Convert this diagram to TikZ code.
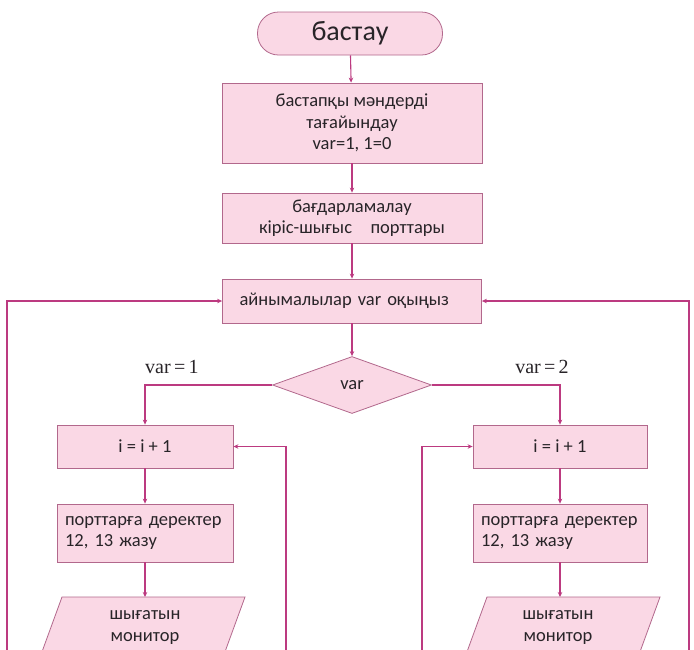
\documentclass[tikz,border=0pt]{standalone}
\usepackage{fontspec}
\usetikzlibrary{shapes.geometric,arrows.meta}
\newfontfamily\boxfont{Carlito}
\newfontfamily\labelfont{Liberation Serif}
\definecolor{boxfill}{RGB}{250,216,229}
\definecolor{boxline}{RGB}{178,104,140}
\definecolor{flowline}{RGB}{188,58,128}
\definecolor{ink}{RGB}{40,36,40}
\begin{document}
\begin{tikzpicture}[x=1pt,y=-1pt,
  block/.style={draw=boxline, fill=boxfill, line width=0.8pt, text=ink,
    font=\boxfont\fontsize{18.5}{21.5}\selectfont, inner sep=0pt, align=center},
  flow/.style={draw=flowline, line width=1.1pt, -{Stealth[length=5pt,width=4.5pt]}},
  cond/.style={font=\labelfont\fontsize{20}{22}\selectfont, text=ink, inner sep=0pt},
  parbox/.style={draw=boxline, fill=boxfill, line width=0.8pt}]
\useasboundingbox (0,0) rectangle (694,649);
\clip (0,0) rectangle (694,649);

% main column
\node[block, rounded corners=21pt, minimum width=185pt, minimum height=43pt,
      font=\boxfont\fontsize{28}{30}\selectfont] (start) at (350,33.5) {бастау};
\node[block, minimum width=260pt, minimum height=80pt] (init) at (352,123)
  {бастапқы мәндерді\\тағайындау\\var=1, 1=0};
\node[block, minimum width=260pt, minimum height=50pt] (ports) at (352,218)
  {бағдарламалау\\кіріс-шығыс\quad порттары};
\node[block, minimum height=44pt, text width=225pt, inner xsep=17pt, align=left] (read) at (352,301)
  {айнымалылар var оқыңыз};
\node[block, diamond, minimum width=159pt, minimum height=57pt] (sel) at (352,385) {var};

% left branch
\node[block, minimum width=176pt, minimum height=43pt] (incL) at (145,446.5) {i = i + 1};
\node[block, minimum height=58pt, text width=160pt, inner xsep=8pt, align=left] (outL) at (145,533)
  {порттарға деректер\\12, 13 жазу};
\draw[parbox] (62,597) -- (245,597) -- (222,660) -- (39,660) -- cycle;
\node[font=\boxfont\fontsize{18.5}{21.5}\selectfont, text=ink, align=center] (monL) at (145,627.5)
  {шығатын\\монитор};
\coordinate (monLtop) at (145,597);

% right branch
\node[block, minimum width=174pt, minimum height=43pt] (incR) at (560,446.5) {i = i + 1};
\node[block, minimum height=58pt, text width=158pt, inner xsep=8pt, align=left] (outR) at (560,533)
  {порттарға деректер\\12, 13 жазу};
\draw[parbox] (487,597) -- (660,597) -- (637,660) -- (464,660) -- cycle;
\node[font=\boxfont\fontsize{18.5}{21.5}\selectfont, text=ink, align=center] (monR) at (558,627.5)
  {шығатын\\монитор};
\coordinate (monRtop) at (560,597);

% branch labels
\node[cond, anchor=west] (c1) at (145,367) {var\,=\,1};
\node[cond] (c2) at (542,367) {var\,=\,2};

% loose ends of the return lines
\coordinate (outerL) at (7,660);
\coordinate (outerR) at (689,660);
\coordinate (innerL) at (286,660);
\coordinate (innerR) at (422,660);

% connectors
\draw[flow] (start) -- (init);
\draw[flow] (init) -- (ports);
\draw[flow] (ports) -- (read);
\draw[flow] (read) -- (sel);
\draw[flow] (sel.west) -| (incL.north);
\draw[flow] (sel.east) -| (incR.north);
\draw[flow] (incL) -- (outL);
\draw[flow] (outL) -- (monLtop);
\draw[flow] (incR) -- (outR);
\draw[flow] (outR) -- (monRtop);
\draw[flow] (innerL) |- (incL.east);
\draw[flow] (innerR) |- (incR.west);
\draw[flow] (outerL) |- (read.west);
\draw[flow] (outerR) |- (read.east);
\end{tikzpicture}
\end{document}
